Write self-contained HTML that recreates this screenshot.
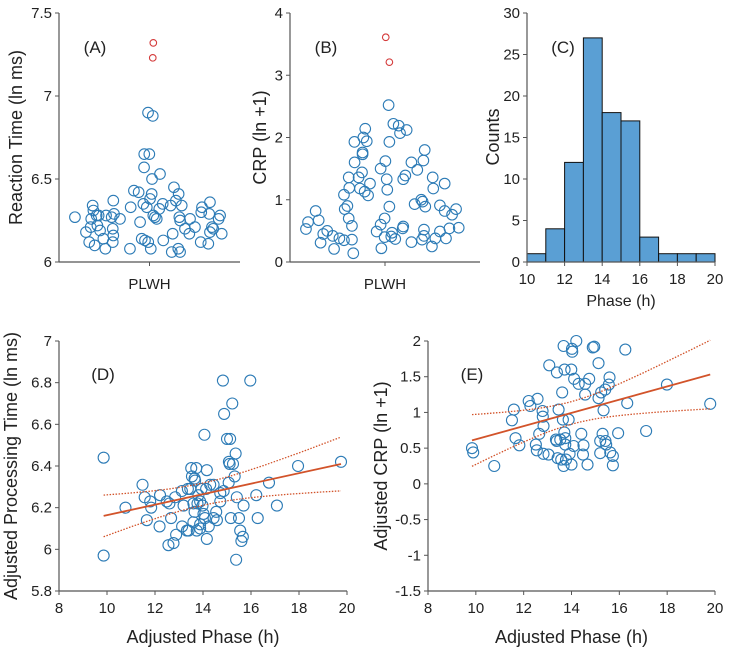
<!DOCTYPE html>
<html><head><meta charset="utf-8"><style>
body{margin:0;background:#fff}
svg{display:block;font-family:"Liberation Sans",Arial,sans-serif}
</style></head><body>
<svg id="fig" width="738" height="656" viewBox="0 0 738 656"></svg>
<script>
// Panel A data
const aJitter=[.088,.149,.167,.175,.178,.186,.190,.197,.208,.212,.219,.227,.245,.256,.260,.291,.297,.297,.300,.300,.304,.337,.392,.396,.414,.440,.448,.457,.466,.470,.471,.475,.485,.493,.499,.492,.503,.507,.512,.514,.518,.521,.530,.540,.554,.558,.573,.576,.617,.623,.628,.635,.646,.659,.661,.665,.669,.669,.678,.696,.720,.724,.751,.783,.786,.790,.825,.830,.834,.834,.845,.852,.882,.890,.899];
const aValues=[6.27,6.18,6.12,6.21,6.26,6.34,6.31,6.10,6.28,6.22,6.28,6.19,6.14,6.08,6.28,6.27,6.12,6.20,6.37,6.16,6.29,6.26,6.08,6.33,6.43,6.42,6.24,6.14,6.35,6.57,6.65,6.13,6.33,6.12,6.65,6.90,6.38,6.08,6.41,6.50,6.88,6.28,6.27,6.26,6.32,6.53,6.35,6.13,6.34,6.06,6.17,6.45,6.37,6.08,6.41,6.27,6.06,6.25,6.34,6.20,6.17,6.26,6.21,6.12,6.30,6.33,6.11,6.29,6.36,6.18,6.21,6.20,6.26,6.28,6.17];
const aOutJitter=[.521,.518];
const aOutValues=[7.32,7.23];
const aTicks=[6,6.5,7,7.5];
// Panel B data
const bJitter=[.084,.095,.135,.151,.161,.175,.196,.225,.232,.260,.284,.288,.284,.302,.309,.309,.312,.326,.326,.333,.339,.340,.361,.368,.379,.382,.382,.386,.393,.396,.404,.411,.421,.456,.477,.477,.481,.498,.498,.502,.509,.512,.519,.523,.523,.533,.537,.544,.554,.572,.579,.593,.596,.596,.607,.614,.639,.639,.656,.670,.691,.695,.698,.702,.705,.709,.705,.712,.747,.751,.754,.765,.789,.789,.814,.814,.821,.839,.853,.874,.888];
const bValues=[.53,.64,.82,.67,.31,.45,.50,.42,.21,.38,.35,.85,1.08,.90,1.36,.70,1.19,.58,.36,.14,1.93,1.60,1.36,1.18,1.44,1.76,1.73,2.00,1.13,2.14,1.94,1.07,1.26,.49,1.50,.60,.22,.70,.40,1.62,1.33,1.16,2.52,1.93,.89,.41,.47,2.22,.37,2.19,2.07,.54,1.33,.57,1.39,2.12,.32,1.60,.93,1.48,1.00,.36,.97,1.63,.42,1.80,.52,.89,.25,1.36,1.18,.38,.91,.49,1.26,.82,.38,.54,.76,.85,.55];
const bOutJitter=[.504,.523];
const bOutValues=[3.61,3.21];
const bTicks=[0,1,2,3,4];
// Panel C data
const cBinStarts=[10,11,12,13,14,15,16,17,18,19];
const cCounts=[1,4,12,27,18,17,3,1,1,1];
const cXTicks=[10,12,14,16,18,20];
const cYTicks=[0,5,10,15,20,25,30];
// Panel D data
const dX=[9.86,9.86,10.77,11.48,11.57,11.66,11.80,11.84,12.19,12.21,12.49,12.56,12.60,12.67,12.77,12.84,12.88,13.12,13.19,13.37,13.40,13.47,13.51,13.54,13.60,13.60,13.65,13.65,13.67,13.72,13.74,13.77,13.81,13.88,13.94,13.98,14.02,14.06,14.08,14.13,14.16,14.16,14.24,14.30,14.44,14.55,14.58,14.72,14.83,14.86,14.88,15.00,15.08,15.11,15.13,15.16,15.22,15.25,15.32,15.36,15.41,15.50,15.55,15.38,15.60,15.66,15.69,15.97,16.22,16.28,16.75,17.08,17.96,19.75,14.72,13.33,13.88,13.13,14.44,15.07,13.88];
const dY=[6.44,5.97,6.20,6.31,6.25,6.14,6.23,6.20,6.11,6.26,6.23,6.02,6.22,6.15,6.03,6.25,6.07,6.28,6.21,6.29,6.09,6.29,6.39,6.35,6.22,6.13,6.34,6.18,6.33,6.39,6.09,6.22,6.26,6.10,6.29,6.21,6.17,6.55,6.15,6.29,6.38,6.05,6.11,6.31,6.31,6.18,6.14,6.27,6.81,6.28,6.65,6.53,6.42,6.41,6.53,6.15,6.70,6.41,6.35,6.46,6.25,6.15,6.09,5.95,6.04,6.06,6.21,6.81,6.26,6.15,6.32,6.21,6.40,6.42,6.23,6.09,6.12,6.11,6.15,6.32,6.23];
const dFit=[5.912,0.0252];
const dCI=[0.00285,0.000418,14];
const dXTicks=[8,10,12,14,16,18,20];
const dYTicks=[5.8,6,6.2,6.4,6.6,6.8,7];
// Panel E data
const eX=[9.84,9.89,10.77,11.51,11.59,11.66,11.82,12.21,12.28,12.58,12.51,12.55,12.65,12.79,12.80,12.83,12.83,13.04,13.07,13.35,13.38,13.39,13.42,13.46,13.53,13.57,13.61,13.64,13.67,13.67,13.70,13.71,13.74,13.74,13.77,13.88,13.92,13.99,14.00,14.02,14.03,14.09,14.11,14.20,14.30,14.41,14.48,14.50,14.57,14.57,14.67,14.74,14.89,14.95,15.13,15.13,15.20,15.20,15.24,15.30,15.34,15.41,15.42,15.45,15.56,15.59,15.62,15.73,15.73,15.95,16.25,16.33,17.12,17.99,19.80];
const eY=[.50,.44,.25,.89,1.04,.64,.54,1.16,1.09,1.19,.55,.47,.70,1.02,.94,.81,.42,.41,1.66,.62,.60,1.56,.36,1.04,.62,.34,1.28,.90,1.93,.25,.72,1.60,.64,.55,.34,.90,.42,1.60,.27,1.89,1.85,.53,1.47,2.0,1.40,.70,.41,.54,1.40,1.25,.27,1.47,1.91,1.92,1.69,1.20,.60,.43,1.28,.70,1.03,1.32,.60,.55,1.39,1.49,.44,.39,.26,.71,1.88,1.13,.74,1.39,1.12];
const eFit=[-0.303,0.0926];
const eCI=[0.0251,0.00611,14];
const eXTicks=[8,10,12,14,16,18,20];
const eYTicks=[-1.5,-1,-0.5,0,0.5,1,1.5,2];

const NS='http://www.w3.org/2000/svg';
const svg=document.getElementById('fig');
function mk(tag,attrs,parent){const e=document.createElementNS(NS,tag);for(const k in attrs)e.setAttribute(k,attrs[k]);(parent||svg).appendChild(e);return e;}
function txt(s,x,y,size,anchor,parent,rot){const t=mk('text',{x:x,y:y,'font-size':size,'text-anchor':anchor||'middle',fill:'#222'},parent);if(rot)t.setAttribute('transform','rotate(-90 '+x+' '+y+')');t.textContent=s;return t;}
function lin(d0,d1,r0,r1){return v=>r0+(v-d0)/(d1-d0)*(r1-r0);}
const BLUE='#2c7bb6',RED='#d43a3a',ORANGE='#d2532a',AX='#555';

function axes(g,x0,x1,y0,y1,ys,yTicks,xs,xTicks,xCat){
  const ya=mk('line',{x1:x0,y1:y0,x2:x0,y2:y1,stroke:AX,'stroke-width':1.2},g);
  
  const xa=mk('line',{x1:x0,y1:y0,x2:x1,y2:y0,stroke:AX,'stroke-width':1.2},g);
  
  yTicks.forEach(v=>{const y=ys(v);mk('line',{x1:x0-4,y1:y,x2:x0,y2:y,stroke:AX},g);
    const t=txt(String(v),x0-7,y+5,15,'end',g);});
  if(xTicks)xTicks.forEach(v=>{const x=xs(v);mk('line',{x1:x,y1:y0,x2:x,y2:y0+4,stroke:AX},g);
    const t=txt(String(v),x,y0+22,15,'middle',g);});
  if(xCat){const x=(x0+x1)/2;mk('line',{x1:x,y1:y0,x2:x,y2:y0+4,stroke:AX},g);
    const t=txt(xCat,x,y0+27,15,'middle',g);}
}
function panel(name){const g=mk('g',{});return g;}

function swarm(name,x0,x1,y0,y1,dmin,dmax,ticks,jit,vals,oj,ov,ytitle,letter,titleX){
  const g=panel(name);
  const ys=lin(dmin,dmax,y0,y1),xs=lin(0,1,x0,x1);
  axes(g,x0,x1,y0,y1,ys,ticks,null,null,'PLWH');
  vals.forEach((v,i)=>{const c=mk('circle',{cx:xs(jit[i]),cy:ys(v),r:5.3,fill:'none',stroke:BLUE,'stroke-width':1.1},g);
    });
  ov.forEach((v,i)=>{const c=mk('circle',{cx:xs(oj[i]),cy:ys(v),r:3.3,fill:'none',stroke:RED,'stroke-width':1.1},g);
    });
  const l=txt(letter,x0+36,53,17,'middle',g);
  const t=txt(ytitle,titleX,(y0+y1)/2,18,'middle',g,true);
}
swarm('panel-a',59,240,262,13,6,7.5,aTicks,aJitter,aValues,aOutJitter,aOutValues,'Reaction Time (ln ms)','(A)',22);
swarm('panel-b',290,480,262,13,0,4,bTicks,bJitter,bValues,bOutJitter,bOutValues,'CRP (ln +1)','(B)',266);

(function(){
  const g=panel('panel-c');
  const x0=527,x1=715,y0=262,y1=13;
  const xs=lin(10,20,x0,x1),ys=lin(0,30,y0,y1);
  cBinStarts.forEach((b,i)=>{const r=mk('rect',{x:xs(b),y:ys(cCounts[i]),width:xs(b+1)-xs(b),height:y0-ys(cCounts[i]),fill:'#5a9fd4',stroke:'#111','stroke-width':1},g);
    });
  axes(g,x0,x1,y0,y1,ys,cYTicks,xs,cXTicks,null);
  const l=txt('(C)',x0+36,53,17,'middle',g);
  const t=txt('Counts',499,137,18,'middle',g,true);
  const xt=txt('Phase (h)',621,306,16,'middle',g);
})();

function scatter(name,x0,x1,y0,y1,ymin,ymax,xT,yT,X,Y,fit,ci,letter,ytitle,titleX){
  const g=panel(name);
  const xs=lin(8,20,x0,x1),ys=lin(ymin,ymax,y0,y1);
  axes(g,x0,x1,y0,y1,ys,yT,xs,xT,null);
  X.forEach((x,i)=>{const c=mk('circle',{cx:xs(x),cy:ys(Y[i]),r:5.5,fill:'none',stroke:BLUE,'stroke-width':1.1},g);
    });
  const xa=Math.min(...X),xb=Math.max(...X);
  const f=x=>fit[0]+fit[1]*x, h=x=>Math.sqrt(ci[0]+ci[1]*(x-ci[2])*(x-ci[2]));
  const fl=mk('line',{x1:xs(xa),y1:ys(f(xa)),x2:xs(xb),y2:ys(f(xb)),stroke:ORANGE,'stroke-width':1.8},g);
  
  [1,-1].forEach(s=>{let d='';for(let k=0;k<=40;k++){const x=xa+(xb-xa)*k/40;d+=(k?'L':'M')+xs(x).toFixed(1)+','+ys(f(x)+s*h(x)).toFixed(1);}
    const p=mk('path',{d:d,fill:'none',stroke:ORANGE,'stroke-width':1.3,'stroke-dasharray':'1.5 1.5'},g);
    });
  const l=txt(letter,x0+44,380,17,'middle',g);
  const t=txt(ytitle,titleX,(y0+y1)/2,18,'middle',g,true);
  const xt=txt('Adjusted Phase (h)',(x0+x1)/2,643,18,'middle',g);
}
scatter('panel-d',59,347,591,341,5.8,7,dXTicks,dYTicks,dX,dY,dFit,dCI,'(D)','Adjusted Processing Time (ln ms)',17);
scatter('panel-e',428,715,591,341,-1.5,2,eXTicks,eYTicks,eX,eY,eFit,eCI,'(E)','Adjusted CRP (ln +1)',387);
</script>
</body></html>
